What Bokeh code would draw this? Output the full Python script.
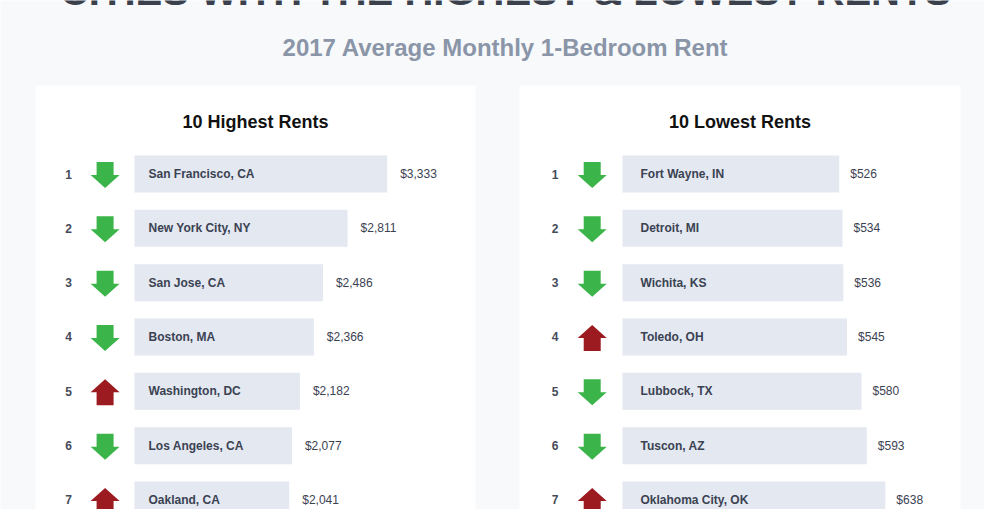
from bokeh.plotting import figure
from bokeh.models import Range1d, ColumnDataSource
from bokeh.core.properties import value
from bokeh.embed import file_html
from bokeh.resources import INLINE

# ---------------- data ----------------
title = "CITIES WITH THE HIGHEST & LOWEST RENTS"
subtitle = "2017 Average Monthly 1-Bedroom Rent"
panel_titles = ["10 Highest Rents", "10 Lowest Rents"]

hi_rank = [1, 2, 3, 4, 5, 6, 7]
hi_city = ["San Francisco, CA", "New York City, NY", "San Jose, CA", "Boston, MA",
           "Washington, DC", "Los Angeles, CA", "Oakland, CA"]
hi_rent = [3333, 2811, 2486, 2366, 2182, 2077, 2041]
hi_trend = ["down", "down", "down", "down", "up", "down", "up"]

lo_rank = [1, 2, 3, 4, 5, 6, 7]
lo_city = ["Fort Wayne, IN", "Detroit, MI", "Wichita, KS", "Toledo, OH",
           "Lubbock, TX", "Tuscon, AZ", "Oklahoma City, OK"]
lo_rent = [526, 534, 536, 545, 580, 593, 638]
lo_trend = ["down", "down", "down", "up", "down", "down", "up"]

# ---------------- style ----------------
FONT = value("Liberation Sans")
BG = "#f7f9fb"
BAR = "#e3e8f1"
TXT = "#3b4252"
GREEN = "#3bb54a"
RED = "#9b1b20"

W, H = 984, 509
X0, X1 = 0, W
Y0, Y1 = 0, H
ROW0, ROW_H = 173.5, 54.33          # pixel centre of rank 1, row pitch
BAR_PX = 37                          # bar thickness in px

p = figure(width=W, height=H, output_backend="svg", toolbar_location=None,
           x_range=Range1d(X0, X1), y_range=Range1d(Y1, Y0),
           x_axis_location=None, y_axis_location=None, min_border=0,
           tools="")
p.grid.visible = False
p.outline_line_color = None
p.background_fill_color = BG
p.border_fill_color = BG

# rank axis (row index) mapped onto the same pixels
p.extra_y_ranges = {"rows": Range1d(start=1 + (Y1 - ROW0) / ROW_H,
                                    end=1 - (ROW0 - Y0) / ROW_H)}

panels = [
    dict(name="hi", px=(35, 475), bar_x0=134, px_per=0.0758, rank_x=68,
         arrow_x=104.6, lab_off=14, val_off=13, title_x=255,
         rank=hi_rank, city=hi_city, rent=hi_rent, trend=hi_trend, ttl=panel_titles[0]),
    dict(name="lo", px=(519, 960), bar_x0=622, px_per=0.412, rank_x=554.7,
         arrow_x=591.7, lab_off=18, val_off=11, title_x=739.5,
         rank=lo_rank, city=lo_city, rent=lo_rent, trend=lo_trend, ttl=panel_titles[1]),
]

# titles (main title is cropped at the top edge, as in the original)
p.text(x=[505], y=[-10], text=[title], text_font=FONT, text_font_style="bold",
       text_font_size="40px", text_color="#3a404c", text_align="center",
       text_baseline="middle")
p.text(x=[505], y=[47], text=[subtitle], text_font=FONT, text_font_style="bold",
       text_font_size="24px", text_color="#8a95a8", text_align="center",
       text_baseline="middle")

for pn in panels:
    # white card
    p.quad(left=[pn["px"][0]], right=[pn["px"][1]], top=[85], bottom=[H + 20],
           fill_color="white", line_color=None)
    p.text(x=[pn["title_x"]], y=[121.5], text=[pn["ttl"]], text_font=FONT,
           text_font_style="bold", text_font_size="18px", text_color="#111111",
           text_align="center", text_baseline="middle")

    # value scale for this panel: $0 at bar_x0, px_per pixels per dollar
    rname = pn["name"]
    p.extra_x_ranges[rname] = Range1d(start=(X0 - pn["bar_x0"]) / pn["px_per"],
                                      end=(X1 - pn["bar_x0"]) / pn["px_per"])

    src = ColumnDataSource(dict(
        rank=pn["rank"], city=pn["city"], rent=pn["rent"],
        label=[f"${v:,}" for v in pn["rent"]],
        zero=[0] * len(pn["rank"]),
        rank_txt=[str(r) for r in pn["rank"]],
        rank_x=[pn["rank_x"]] * len(pn["rank"]),
    ))

    p.hbar(y="rank", left="zero", right="rent", height=BAR_PX / ROW_H, source=src,
           fill_color=BAR, line_color=None, x_range_name=rname, y_range_name="rows")
    p.text(x="zero", y="rank", text="city", source=src, x_offset=pn["lab_off"],
           text_font=FONT, text_font_style="bold", text_font_size="12px",
           text_color=TXT, text_baseline="middle", x_range_name=rname,
           y_range_name="rows")
    p.text(x="rent", y="rank", text="label", source=src, x_offset=pn["val_off"],
           text_font=FONT, text_font_size="12px", text_color=TXT,
           text_baseline="middle", x_range_name=rname, y_range_name="rows")
    p.text(x="rank_x", y="rank", text="rank_txt", source=src, text_font=FONT,
           text_font_style="bold", text_font_size="12px", text_color="#454b59",
           text_align="center", text_baseline="middle", y_range_name="rows")

    # trend arrows (shape in px, placed on the rank scale)
    shape = [(-8.5, -13), (8.5, -13), (8.5, 0), (14.5, 0), (0, 13), (-14.5, 0), (-8.5, 0)]
    xs, ys, cols = [], [], []
    for r, t in zip(pn["rank"], pn["trend"]):
        d = 1 if t == "down" else -1
        cy = r + 1.0 / ROW_H
        xs.append([pn["arrow_x"] + sx for sx, sy in shape])
        ys.append([cy + d * sy / ROW_H for sx, sy in shape])
        cols.append(GREEN if t == "down" else RED)
    p.patches(xs=xs, ys=ys, fill_color=cols, line_color=None, y_range_name="rows")

open("out.html", "w").write(file_html(p, INLINE))
